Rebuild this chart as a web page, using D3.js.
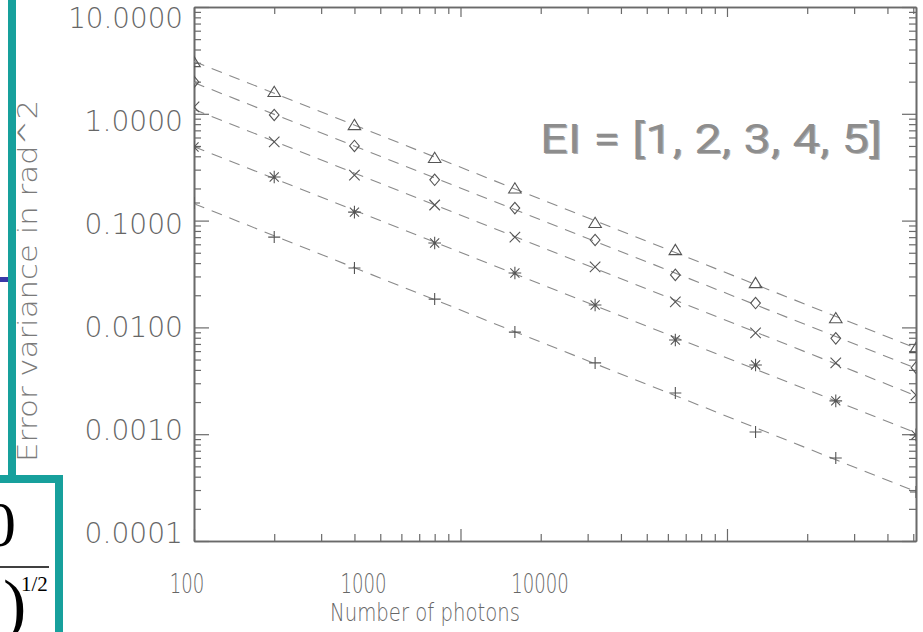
<!DOCTYPE html>
<head>
    <meta charset="utf-8">
    <script src="https://cdn.jsdelivr.net/npm/d3@7"></script>
    <style>
        body { margin: 0; background: white; }
        .axis path, .axis line { stroke: #6a6a6a; stroke-width: 1.2px; }
        .axis path { stroke-width: 1.6px; }
        .tick-label, .axis-title {
            font-family: "DejaVu Sans", sans-serif;
            font-weight: 200;
            fill: #666;
        }
        .fit { fill: none; stroke: #8a8a8a; stroke-width: 1.1px; stroke-dasharray: 11, 8; }
        .mark { fill: none; stroke: #555; stroke-width: 1.1px; }
    </style>
</head>

<body>
<script>

    // number of photons
    var photons = [100, 200, 400, 800, 1600, 3200, 6400, 12800, 25600, 51200];

    // error variance (rad^2), one list per EI value
    var ei1 = [0.146, 0.0701, 0.036, 0.0184, 0.00904, 0.00465, 0.00243, 0.00105, 0.000598, 0.000288];
    var ei2 = [0.489, 0.256, 0.120, 0.0617, 0.0323, 0.0162, 0.00762, 0.00445, 0.00205, 0.000984];
    var ei3 = [1.16, 0.546, 0.267, 0.140, 0.0701, 0.0368, 0.0173, 0.00887, 0.00465, 0.00233];
    var ei4 = [1.99, 0.975, 0.50, 0.241, 0.131, 0.0658, 0.031, 0.0169, 0.0079, 0.0042];
    var ei5 = [3.05, 1.60, 0.785, 0.386, 0.200, 0.095, 0.053, 0.026, 0.0122, 0.0064];

    var xTickLabels = [100, 1000, 10000];
    var yTickLabels = [10, 1, 0.1, 0.01, 0.001, 0.0001];

    var width = 923, height = 632;
    var pLeft = 194, pRight = 916, pTop = 7, pBottom = 541;

    var svg = d3.select("body").append("svg")
        .attr("width", width)
        .attr("height", height);

    var x = d3.scaleLog().domain([100, 51200]).range([pLeft, pRight]);
    var y = d3.scaleLog().domain([1e-4, 10]).range([pBottom, pTop]);

    // the labels of the original image sit a bit off their ticks
    var xLab = d3.scaleLog().domain([100, 10000]).range([187, 540]);
    var yLab = d3.scaleLog().domain([1e-4, 10]).range([533, 18]);

    // slide decoration around the plot
    var deco = svg.append("g");
    deco.append("line").attr("x1", 12).attr("x2", 12).attr("y1", 0).attr("y2", 479)
        .style("stroke", "#17a09c").style("stroke-width", 8);
    deco.append("rect").attr("x", -20).attr("y", 479).attr("width", 79).attr("height", 200)
        .style("fill", "white").style("stroke", "#17a09c").style("stroke-width", 8);
    deco.append("rect").attr("x", 0).attr("y", 277).attr("width", 8).attr("height", 5)
        .style("fill", "#3a3aa8");
    deco.append("text").attr("x", -16).attr("y", 546).text("0")
        .style("font-family", "Liberation Serif").style("font-size", "64px");
    deco.append("line").attr("x1", 0).attr("x2", 49).attr("y1", 567).attr("y2", 567)
        .style("stroke", "black").style("stroke-width", 1.3);
    deco.append("text").attr("x", 3).attr("y", 628).text(")")
        .style("font-family", "Liberation Serif").style("font-size", "70px");
    deco.append("text").attr("x", 21).attr("y", 591).text("1/2")
        .style("font-family", "Liberation Serif").style("font-size", "21px");

    // axes, ticks pointing inward
    function isDecade(d) {
        var r = Math.abs(Math.log10(d) % 1);
        return r < 1e-6 || r > 1 - 1e-6;
    }
    var xMinor = x.ticks().filter(function(d) { return !isDecade(d); });
    var xMajor = x.ticks().filter(isDecade);
    var yMinor = y.ticks().filter(function(d) { return !isDecade(d); });
    var yMajor = y.ticks().filter(isDecade);

    function addAxis(axisFn, scale, minor, major, tr, minorLen, majorLen) {
        svg.append("g").attr("class", "axis").attr("transform", tr)
            .call(axisFn(scale).tickValues(minor)
                .tickSizeInner(-minorLen).tickSizeOuter(0).tickFormat(""));
        svg.append("g").attr("class", "axis").attr("transform", tr)
            .call(axisFn(scale).tickValues(major)
                .tickSizeInner(-majorLen).tickSizeOuter(0).tickFormat(""));
    }
    addAxis(d3.axisBottom, x, xMinor, xMajor, "translate(0," + pBottom + ")", 7, 12);
    addAxis(d3.axisTop, x, xMinor, xMajor, "translate(0," + pTop + ")", 7, 10);
    addAxis(d3.axisLeft, y, yMinor, yMajor, "translate(" + pLeft + ",0)", 7, 15);
    addAxis(d3.axisRight, y, yMinor, yMajor, "translate(" + pRight + ",0)", 7, 14);

    // tick labels
    svg.selectAll(".xlab").data(xTickLabels).enter().append("text")
        .attr("class", "tick-label")
        .attr("x", function(d) { return xLab(d); })
        .attr("y", 593)
        .attr("text-anchor", "middle")
        .attr("textLength", function(d) { return String(d).length * 11.5; })
        .attr("lengthAdjust", "spacingAndGlyphs")
        .style("font-size", "27px")
        .text(function(d) { return d; });

    svg.selectAll(".ylab").data(yTickLabels).enter().append("text")
        .attr("class", "tick-label")
        .attr("x", 183)
        .attr("y", function(d) { return yLab(d); })
        .attr("dy", "0.36em")
        .attr("text-anchor", "end")
        .attr("textLength", function(d) { return d3.format(".4f")(d).length * 16.4; })
        .attr("lengthAdjust", "spacingAndGlyphs")
        .style("font-size", "28px")
        .text(function(d) { return d3.format(".4f")(d); });

    svg.append("text").attr("class", "axis-title")
        .attr("x", 425).attr("y", 621)
        .attr("text-anchor", "middle")
        .attr("textLength", 190).attr("lengthAdjust", "spacingAndGlyphs")
        .style("font-size", "25px")
        .text("Number of photons");

    svg.append("text").attr("class", "axis-title")
        .attr("transform", "translate(37,462) rotate(-90)")
        .attr("textLength", 362).attr("lengthAdjust", "spacingAndGlyphs")
        .style("font-size", "27px")
        .style("fill", "#7a7a7a")
        .text("Error variance in rad^2");

    // series: fitted dashed line + markers, clipped to the plot frame
    svg.append("clipPath").attr("id", "clip").append("rect")
        .attr("x", pLeft).attr("y", pTop).attr("width", pRight - pLeft).attr("height", pBottom - pTop);

    var plot = svg.append("g").attr("clip-path", "url(#clip)");

    var starSym = { draw: function(ctx, s) {
        var r = Math.sqrt(s) / 2, q = r * 0.72;
        ctx.moveTo(-r, 0); ctx.lineTo(r, 0);
        ctx.moveTo(0, -r); ctx.lineTo(0, r);
        ctx.moveTo(-q, -q); ctx.lineTo(q, q);
        ctx.moveTo(-q, q); ctx.lineTo(q, -q);
    } };
    var plusSym = { draw: function(ctx, s) {
        var r = Math.sqrt(s) / 2;
        ctx.moveTo(-r, 0); ctx.lineTo(r, 0);
        ctx.moveTo(0, -r); ctx.lineTo(0, r);
    } };
    var timesSym = { draw: function(ctx, s) {
        var r = Math.sqrt(s) / 2;
        ctx.moveTo(-r, -r); ctx.lineTo(r, r);
        ctx.moveTo(-r, r); ctx.lineTo(r, -r);
    } };
    var diamondSym = { draw: function(ctx, s) {
        var r = Math.sqrt(s) / 2;
        ctx.moveTo(0, -r); ctx.lineTo(r * 0.85, 0); ctx.lineTo(0, r); ctx.lineTo(-r * 0.85, 0); ctx.closePath();
    } };
    var triSym = { draw: function(ctx, s) {
        var r = Math.sqrt(s) / 2;
        ctx.moveTo(0, -r); ctx.lineTo(r * 1.1, r * 0.8); ctx.lineTo(-r * 1.1, r * 0.8); ctx.closePath();
    } };

    var series = [
        { values: ei1, sym: plusSym, size: 144 },
        { values: ei2, sym: starSym, size: 160 },
        { values: ei3, sym: timesSym, size: 110 },
        { values: ei4, sym: diamondSym, size: 130 },
        { values: ei5, sym: triSym, size: 130 }
    ];

    series.forEach(function(s) {
        // least squares in log-log space
        var lx = photons.map(Math.log10), ly = s.values.map(Math.log10);
        var mx = d3.mean(lx), my = d3.mean(ly);
        var b = d3.sum(lx, function(v, i) { return (v - mx) * (ly[i] - my); }) /
                d3.sum(lx, function(v) { return (v - mx) * (v - mx); });
        var a = my - b * mx;
        var ends = x.domain().map(function(v) { return [v, Math.pow(10, a + b * Math.log10(v))]; });

        plot.append("path").attr("class", "fit")
            .attr("d", d3.line().x(function(d) { return x(d[0]); }).y(function(d) { return y(d[1]); })(ends));

        plot.selectAll(null).data(s.values).enter().append("path")
            .attr("class", "mark")
            .attr("transform", function(d, i) { return "translate(" + x(photons[i]) + "," + y(d) + ")"; })
            .attr("d", d3.symbol(s.sym, s.size));
    });

    // annotation
    var ann = svg.append("g").attr("transform", "translate(882,153)");
    ann.append("text").attr("x", 1.2).attr("y", 1.2)
        .attr("text-anchor", "end")
        .attr("textLength", 342).attr("lengthAdjust", "spacingAndGlyphs")
        .style("font-family", "Roboto, sans-serif").style("font-size", "40px")
        .style("fill", "#3a3a3a").style("opacity", 0.4)
        .text("EI = [1, 2, 3, 4, 5]");
    ann.append("text")
        .attr("text-anchor", "end")
        .attr("textLength", 342).attr("lengthAdjust", "spacingAndGlyphs")
        .style("font-family", "Roboto, sans-serif").style("font-size", "40px")
        .style("fill", "#8d8d8d")
        .text("EI = [1, 2, 3, 4, 5]");

</script>
</body>
